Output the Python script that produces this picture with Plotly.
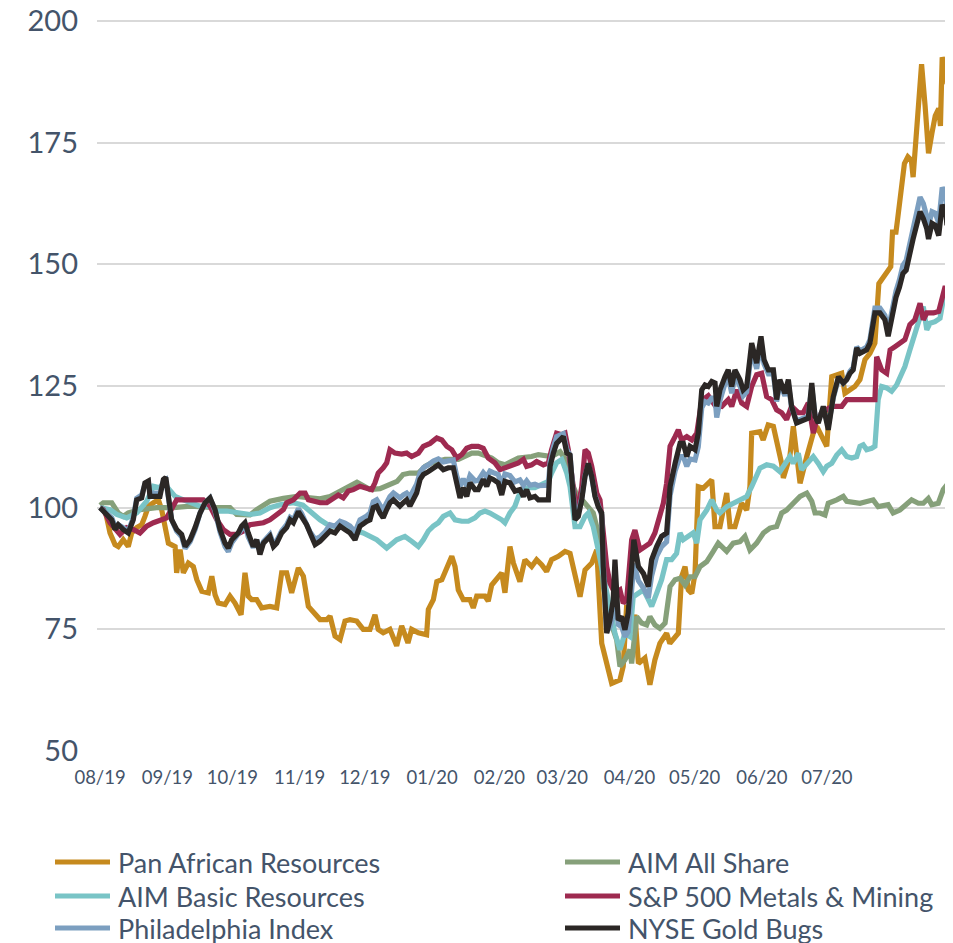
import plotly.graph_objects as go

# ---- data (x = days since 1 Aug 2019, y = index, rebased to 100) ----
month_days = [0, 31, 61, 92, 122, 153, 184, 213, 244, 274, 305, 335]
month_labels = ["08/19", "09/19", "10/19", "11/19", "12/19", "01/20",
                "02/20", "03/20", "04/20", "05/20", "06/20", "07/20"]
y_ticks = [50, 75, 100, 125, 150, 175, 200]

pan_african = [(0,100),(2.3,99.6),(4.6,94.8),(6.9,92.4),(8.4,92),(10.7,93.4),(13.0,92),(14.6,94.8),(16.9,95.9),(19.2,96.5),(20.7,98.2),(22.3,100.3),(24.6,101),(26.9,101.6),(28.4,99.6),(30.0,96.2),(31.5,92.7),(34.6,92),(35.3,86.6),(36.9,91.4),(38.4,86.6),(40.7,88.6),(43.0,87.9),(44.6,85.2),(46.9,82.8),(49.9,82.5),(51.5,85.9),(53.0,82.1),(54.5,80.4),(57.6,80.1),(59.9,81.8),(62.2,80.4),(65.0,78),(66.8,86.6),(68.3,81.8),(69.9,81.1),(72.2,81.1),(74.5,79.4),(78.3,79.7),(81.4,79.4),(83.7,86.6),(86.0,86.6),(88.3,82.5),(91.4,87.6),(93.7,85.9),(96.0,79.7),(98.3,78.7),(101.4,77),(104.5,77),(106.0,77.7),(108.3,73.6),(110.6,72.9),(112.9,76.7),(115.2,77),(118.3,76.7),(121.3,75),(124.4,75),(126.7,78),(128.2,75),(130.5,74.3),(133.6,75),(136.7,71.6),(139.0,75.7),(141.9,72.2),(143.6,75),(146.7,74.3),(150.5,73.9),(151.3,79.1),(153.6,81.1),(155.2,84.8),(157.5,85.2),(159.8,87.9),(162.1,90),(163.6,87.9),(165.1,83.1),(167.4,81.1),(170.5,81.1),(172.0,79.4),(173.6,81.8),(177.4,81.8),(178.9,80.8),(180.5,84.1),(182.8,85.2),(185.1,86.6),(186.6,82.5),(188.9,92),(190.5,88.6),(193.5,84.8),(195.8,89.3),(198.9,87.9),(201.2,89.3),(203.5,88.3),(205.8,86.9),(208.1,89.3),(211.2,90),(214.3,91),(216.6,90.6),(218.9,85.8),(221.2,81.7),(223.5,87.2),(226.6,88.6),(228.9,91.3),(231.2,72.1),(235.8,63.9),(239.6,64.6),(241.1,67.4),(242.7,80),(245.0,74.2),(246.5,78),(248.1,68),(251.1,69.1),(253.4,63.6),(255.7,68.7),(258.0,72.1),(261.1,74.2),(262.6,72.1),(266.5,74.2),(268.0,85.8),(269.6,87.9),(271.1,83.1),(272.7,82.4),(274.2,86.5),(275.7,104.3),(278.0,104),(281.9,105.7),(283.4,96.1),(285.7,96.1),(288.8,103),(290.3,96.1),(292.6,96.1),(295.7,100.9),(298.0,99.5),(299.5,104.3),(300.3,115.3),(304.1,115.6),(305.6,113.9),(307.9,117),(310.3,116.7),(312.6,112.6),(314.1,109.1),(314.9,106.1),(317.9,110.5),(319.5,116.7),(321.0,110.5),(322.6,105),(325.7,110.5),(328.7,115.3),(330.3,116.7),(333.3,113.9),(334.9,112.6),(337.2,126.9),(339.5,127.3),(341.8,127.6),(343.3,123.5),(345.6,124.2),(347.9,124.9),(350.2,126.3),(352.5,130.4),(354.8,131.7),(357.1,133.8),(358.9,146),(362.1,148.1),(364.4,149.5),(365.2,156.6),(366.8,156.6),(367.6,159.4),(369.1,165.1),(370.7,170.7),(372.3,172.1),(373.9,171.4),(374.7,167.9),(375.5,172.1),(377.1,180.5),(378.6,191.1),(380.2,182.7),(381.8,172.8),(383.4,177),(384.9,180.5),(386.5,182),(387.3,178.4),(388.1,192.5),(389.7,190.4),(390.3,187)]

aim_all_share = [(0,100.5),(1.5,101),(5.4,101),(8.4,98.9),(10.7,98.2),(13.0,98.9),(18.4,99.6),(26.1,100),(33.8,100),(41.5,100.3),(53.8,100),(59.9,100),(63.0,98.6),(66.0,98.6),(69.1,98.5),(72.2,99.6),(75.3,100.6),(78.3,101.3),(84.5,101.9),(90.8,102.3),(96.8,102),(101.4,101.8),(106.0,102.3),(109.2,103),(113.8,104.1),(118.4,105.2),(124.4,103.7),(129.0,103.9),(136.9,105.4),(139.6,106.8),(142.8,107.1),(146.7,107.1),(149.8,108.5),(152.8,109.2),(159.0,109.9),(165.1,109.9),(171.3,111.2),(174.3,111.2),(180.5,110.2),(183.5,109.2),(186.6,108.8),(192.8,110.2),(198.9,110.5),(202.0,110.9),(208.1,110.5),(212.0,111.5),(214.3,110),(217.5,105),(220.3,102),(222.7,101.3),(227.3,98.9),(229.6,94.8),(231.9,83.8),(235.0,76.9),(238.1,72.8),(239.6,67.4),(241.9,68.7),(244.2,70.8),(245.0,68),(247.3,77.6),(249.6,76.3),(251.9,75.9),(253.4,77.6),(255.7,75.9),(258.0,75.2),(260.4,76.3),(262.7,83.8),(265.0,85.2),(267.3,85.5),(269.6,84.1),(271.9,85.8),(274.2,85.8),(276.5,87.9),(279.6,88.9),(282.6,91),(284.9,92.7),(288.8,91),(291.8,92.7),(294.9,93),(297.2,94.1),(299.5,91.3),(302.6,92.7),(305.7,94.8),(308.7,95.8),(311.8,96.1),(314.1,98.9),(316.4,99.5),(319.5,100.9),(322.6,102.3),(325.7,103),(328.0,101.3),(329.5,98.9),(331.8,98.9),(334.1,98.5),(335.6,100.9),(339.5,101.6),(342.5,102.3),(344.1,101.3),(350.2,100.9),(356.3,101.6),(358.6,100.2),(363.2,100.6),(365.5,98.9),(368.6,99.5),(371.7,100.9),(374.0,101.6),(377.1,100.9),(379.4,100.9),(381.7,101.9),(383.3,100.6),(386.3,100.9),(388.6,103.7),(390.3,104.7)]

aim_basic_resources = [(0,100),(4.6,99.6),(7.7,98.6),(12.3,97.9),(16.9,98.9),(21.5,101.3),(24.6,104.4),(27.6,104.1),(29.2,105.1),(32.3,103.7),(34.6,102.3),(38.4,101.6),(43.0,100.9),(46.1,100.3),(50.7,100.3),(53.8,99.3),(58.4,99.3),(64.5,98.9),(69.1,98.6),(73.7,98.9),(78.3,100),(82.9,100.6),(89.1,101),(93.5,100.5),(98.3,98.6),(101.4,97.5),(106.0,96.2),(112.1,96.2),(118.3,95.2),(121.3,94.8),(127.5,93.4),(132.1,91.7),(136.7,93.4),(140.5,94.1),(143.6,93.1),(146.7,92),(149.0,93.4),(151.3,95.2),(153.6,96.2),(155.9,96.9),(158.2,98.2),(161.3,98.9),(163.6,97.5),(166.7,97.2),(169.7,97.2),(172.8,97.9),(175.1,98.9),(177.4,99.3),(179.7,98.9),(182.8,98.2),(185.1,97.5),(186.6,96.9),(188.9,98.9),(191.2,100.3),(192.8,102.3),(195.1,103.7),(197.4,104.1),(200.4,104.1),(203.5,104.7),(206.6,105.4),(208.1,107.1),(210.4,109.2),(212.8,109.9),(215.1,107.1),(216.6,104.3),(218.1,98.9),(218.9,96.1),(221.2,96.1),(223.5,98.2),(225.0,98.9),(227.3,96.1),(229.6,91.3),(231.2,87.9),(233.5,82.4),(235.0,79.7),(237.3,74.2),(239.6,70.8),(241.9,74.2),(244.2,73.5),(245.7,81.7),(248.1,82.4),(250.4,83.1),(252.7,81.1),(254.2,79.7),(256.5,82.4),(258.8,85.2),(261.1,89.3),(263.4,89.3),(265.7,90.6),(267.3,94.8),(268.8,93.4),(271.1,94.1),(273.4,94.8),(275.0,92.7),(276.5,97.5),(279.6,99.5),(281.9,101.6),(284.2,99.5),(285.7,98.9),(288.8,100.2),(291.8,100.9),(294.9,101.6),(298.0,102.3),(300.3,104.3),(302.6,106.4),(304.1,108.1),(307.2,108.8),(310.3,108.5),(313.3,107.4),(315.6,108.8),(317.9,110.5),(319.5,109.1),(321.8,111.2),(323.3,107.8),(325.7,109.1),(328.7,110.5),(331.0,109.1),(333.3,107.4),(334.9,108.5),(337.2,109.1),(339.5,110.8),(341.8,111.9),(344.1,110.5),(346.4,110.2),(348.7,110.5),(350.2,112.6),(351.7,112.9),(353.3,111.9),(355.6,112.2),(357.1,112.6),(358.6,122.2),(360.2,124.9),(362.5,124.6),(364.8,123.9),(367.1,125.2),(368.6,126.9),(370.9,129),(373.2,132.4),(375.5,135.9),(377.9,138.6),(379.4,141.3),(381.0,136.5),(382.5,137.9),(384.8,138.2),(387.1,138.9),(388.6,142.7),(390.3,144.5)]

sp500_metals_mining = [(0,100),(1.5,99.6),(4.6,96.9),(7.7,95.2),(9.2,94.5),(12.3,95.9),(15.3,95.5),(18.4,94.8),(21.5,96.2),(24.6,96.9),(27.6,97.5),(30.7,97.9),(35.3,101.6),(40.0,101.6),(47.6,101.6),(50.7,100.3),(53.8,97.5),(56.8,95.5),(59.9,94.5),(63.0,94.5),(66.0,95.2),(69.1,96.5),(75.3,96.9),(78.3,97.5),(81.4,98.6),(84.5,99.6),(86.0,101),(89.1,101.6),(92.2,103),(94.5,103),(96.0,101.6),(101.4,101),(104.5,101),(107.5,102),(109.8,102.6),(112.1,102),(114.4,103.4),(116.7,103.7),(119.8,104.4),(122.1,104.1),(125.2,103.7),(126.7,105.1),(128.2,107.1),(130.5,108.2),(132.1,109.2),(133.6,111.9),(135.9,111.2),(139.0,111),(141.3,111.2),(143.6,110.5),(146.7,111.2),(149.0,112.6),(152.1,113.2),(155.2,114.3),(157.5,113.9),(159.8,112.6),(162.1,111.9),(164.4,110.2),(166.7,110.9),(169.0,112.2),(171.3,112.6),(174.3,112.6),(176.6,112.2),(178.9,110.2),(182.0,109.2),(184.3,107.8),(186.6,108.2),(189.7,108.5),(192.8,109.2),(195.1,109.9),(196.6,108.5),(198.9,108.8),(201.2,109.5),(204.3,108.8),(206.6,109.2),(208.1,111.9),(210.4,115.3),(212.8,115),(214.3,115.3),(215.8,111.9),(217.3,107.1),(218.9,101.6),(220.4,100.2),(222.0,104.3),(223.5,111.9),(225.0,111.2),(226.6,108.5),(228.9,103),(230.4,101.6),(231.9,94.8),(233.5,87.9),(235.0,84.5),(237.3,82.4),(239.6,83.1),(241.1,80.4),(242.7,81.1),(245.0,93.4),(246.5,95.4),(248.8,91.3),(251.1,92),(253.4,92.7),(255.7,94.8),(258.0,98.9),(259.6,100.9),(261.1,105),(262.7,112.6),(265.0,114.6),(266.5,116),(268.0,113.9),(270.4,114.6),(272.7,113.9),(275.0,115.3),(277.3,122),(280.3,123),(283.4,121),(286.5,120.8),(289.5,122.2),(291.1,120.8),(293.4,124.2),(295.7,121.5),(298.0,120.8),(300.3,124.9),(302.6,127.3),(304.9,127.6),(307.2,122.8),(309.5,122.2),(311.8,120.1),(314.1,119.5),(316.4,118.1),(318.7,120.8),(321.8,119.5),(324.1,119.5),(326.4,121.5),(328.7,115.3),(330.3,118.1),(332.6,119.5),(337.2,120.8),(341.8,120.8),(344.1,122.2),(357.1,122.2),(357.9,131),(360.2,128.3),(362.5,127.6),(364.1,132.4),(366.4,133.1),(368.6,133.8),(370.9,134.5),(373.2,137.6),(375.5,138.6),(377.9,142),(379.4,138.6),(381.0,140),(384.1,140),(386.5,140.3),(388.0,142.7),(389.5,145.5),(390.3,144)]

philadelphia_index = [(0,100),(3.1,98.9),(5.4,97.9),(6.9,96.2),(8.4,96.5),(10.7,95.9),(13.0,95.2),(15.3,97.9),(16.9,101.9),(19.2,102.6),(20.7,104.8),(22.3,105.2),(23.0,103),(27.6,103),(29.2,105.5),(30.3,105.8),(31.5,102),(33.0,97.5),(35.3,95.2),(37.6,94),(39.2,91.6),(41.5,93),(43.8,95.5),(46.1,98.9),(48.4,101),(50.7,102),(53.0,99.3),(55.3,95),(57.6,92),(59.1,91),(60.7,92.8),(63.7,94.5),(65.3,95.5),(66.8,96.5),(68.3,94),(70.6,91.8),(72.2,93.4),(73.7,91),(75.3,93),(76.8,93.8),(78.3,94.5),(79.9,92.6),(81.4,93.2),(83.7,95.2),(86.0,96.5),(87.6,98),(89.1,97.5),(91.4,99.8),(92.9,98.8),(95.2,96.5),(96.8,95),(99.1,93.5),(101.4,94),(103.7,95),(106.0,96.5),(108.3,96.2),(110.6,97.2),(112.9,96.8),(115.2,96.2),(117.5,95),(119.8,97.5),(122.9,98.3),(124.4,98.9),(125.9,101.2),(127.5,101.6),(129.0,100.5),(130.5,99.6),(132.1,101),(133.6,102.3),(135.2,103),(136.7,102.6),(138.2,102),(139.8,102.6),(141.3,103),(142.8,102.2),(144.4,103.4),(145.9,104.8),(147.5,107.2),(149.0,108.2),(151.3,108.8),(153.6,109.6),(155.9,110),(158.2,109.4),(160.5,109.6),(162.8,109.8),(164.4,106.5),(165.9,104.4),(167.4,105.9),(169.0,104.5),(170.5,106.6),(172.8,105.5),(174.3,105.6),(176.6,107.2),(178.2,106.3),(179.7,107.5),(181.2,107.2),(183.5,106.8),(185.1,104.7),(186.6,106.9),(188.9,106.6),(191.2,105.3),(193.5,105.7),(195.1,104.6),(196.6,105.5),(198.1,104.6),(200.4,104.8),(202.0,104.5),(206.6,104.6),(207.4,109.4),(208.9,112.4),(210.4,114.6),(213.5,115.2),(215.1,112),(216.6,110.8),(218.1,102.3),(218.9,98.5),(220.4,99),(222.0,102),(223.5,106.6),(225.0,108.8),(226.6,106.2),(228.1,102.5),(229.6,100.5),(231.2,98.5),(231.9,88.5),(233.5,74.5),(235.0,75.5),(236.5,78),(237.3,84),(238.8,76),(240.4,75.5),(241.9,73.5),(243.4,74.5),(245.0,82),(246.0,88.5),(248.1,85),(250.4,83.5),(252.7,81.5),(254.2,86),(256.5,90),(258.8,92),(261.1,93),(262.7,102.5),(265.0,107.5),(267.3,110.5),(268.8,110.5),(270.4,108.5),(271.9,110),(274.2,109.8),(275.7,112.5),(277.3,120.5),(278.8,121.8),(280.3,121.5),(281.9,122.5),(283.4,122.5),(284.2,118.5),(285.7,122),(288.0,125.5),(289.5,127),(291.1,123.5),(292.6,127),(294.9,125),(296.4,123),(298.0,123.8),(300.3,132.5),(302.6,128.5),(304.6,133.8),(306.0,129.5),(308.0,127.5),(310.3,127.5),(311.8,121.8),(313.3,125.5),(315.6,123),(317.2,125.5),(318.7,120.5),(321.0,117.8),(324.1,118.5),(326.4,118.8),(328.0,124.8),(329.5,119),(331.0,117.8),(333.3,120.5),(335.6,116.8),(337.9,122.5),(340.3,126.5),(342.5,125.5),(344.1,126.5),(345.6,128),(347.1,128.8),(348.7,133),(350.2,132.2),(353.3,133),(354.8,134.5),(357.1,141),(359.4,141),(361.7,139.5),(363.2,136.5),(365.2,141.5),(366.8,144.5),(368.4,146.8),(370.0,149.8),(371.5,150.8),(373.1,154.5),(374.7,157.5),(376.3,160.5),(377.9,163.8),(379.4,162.5),(381.0,159.8),(381.8,158),(383.4,160.8),(384.9,160.5),(386.5,158.5),(388.1,165.8),(389.7,164.5),(390.3,161)]

nyse_gold_bugs = [(0,100),(3.1,98.6),(5.4,97.5),(6.9,95.5),(8.4,96.5),(10.7,95.5),(13.0,94.8),(15.3,97.5),(16.9,101.6),(19.2,102),(20.7,105.1),(22.3,105.5),(23.0,102.3),(27.6,102.3),(29.2,105.8),(30.3,106.2),(31.5,101.6),(33.0,97.5),(35.3,95.5),(37.6,94.5),(39.2,92),(41.5,93.4),(43.8,95.9),(46.1,98.9),(48.4,101),(50.7,102),(53.0,99.6),(55.3,95.5),(57.6,92.7),(59.1,91.7),(60.7,93.4),(63.7,94.8),(65.3,96.2),(66.8,96.9),(68.3,94.8),(70.6,92),(72.2,93.4),(73.7,90.4),(75.3,92.7),(76.8,93.4),(78.3,94.1),(79.9,92),(81.4,92.7),(83.7,94.8),(86.0,95.9),(87.6,97.5),(89.1,96.9),(91.4,99.2),(92.9,98.2),(95.2,96.5),(96.8,94.8),(99.1,92.4),(101.4,93.1),(103.7,94.1),(106.0,95.2),(108.3,94.8),(110.6,96.2),(112.9,95.5),(115.2,94.8),(117.5,93.4),(119.8,96.2),(122.9,97.2),(124.4,97.5),(125.9,100),(127.5,100.3),(129.0,98.9),(130.5,97.9),(132.1,99.6),(133.6,101),(135.2,101.6),(136.7,101),(138.2,100.3),(139.8,101),(141.3,101.6),(142.8,100.3),(144.4,101.6),(145.9,103),(147.5,105.8),(149.0,106.8),(151.3,107.4),(153.6,108.2),(155.9,108.8),(158.2,107.8),(160.5,108.2),(162.8,108.2),(164.4,104.4),(165.9,102),(167.4,104.1),(169.0,102.3),(170.5,105.1),(172.8,103.7),(174.3,103.7),(176.6,105.8),(178.2,104.4),(179.7,106.1),(181.2,105.8),(183.5,105.1),(185.1,102.6),(186.6,105.4),(188.9,105.1),(191.2,103.4),(193.5,103.7),(195.1,102.3),(196.6,103.7),(198.1,102),(200.4,102.3),(202.0,101.6),(206.6,101.6),(207.4,108.5),(208.9,111.2),(210.4,113.2),(213.5,114.6),(215.1,111.2),(216.6,110.8),(218.1,101.6),(218.9,97.5),(220.4,98.2),(222.0,101.6),(223.5,106.4),(225.0,109.1),(226.6,106.4),(228.1,102.3),(229.6,100.2),(231.2,98.9),(231.9,87.9),(233.5,74.2),(235.0,76.9),(236.5,81.1),(237.3,89.3),(238.8,76.9),(240.4,77.6),(241.9,74.9),(243.4,78.3),(245.0,87.9),(246.0,93.4),(248.1,87.9),(250.4,86.5),(252.7,83.8),(254.2,89.3),(256.5,92),(258.8,94.1),(261.1,94.8),(262.7,104.3),(265.0,109.1),(267.3,113.2),(268.8,113.2),(270.4,110.5),(271.9,112.6),(274.2,111.9),(275.7,115.3),(277.3,124.2),(278.8,125.2),(280.3,124.9),(281.9,125.9),(283.4,125.6),(284.2,120.8),(285.7,124.2),(288.0,126.9),(289.5,128.3),(291.1,124.9),(292.6,128.3),(294.9,126.3),(296.4,124.2),(298.0,124.9),(300.3,133.8),(302.6,129.7),(304.6,135.2),(306.0,130.4),(308.0,128.3),(310.3,128.3),(311.8,122.2),(313.3,126.3),(315.6,123.5),(317.2,126.3),(318.7,120.8),(321.0,117.4),(324.1,118.1),(326.4,118.4),(328.0,125.6),(329.5,118.7),(331.0,117.4),(333.3,120.8),(335.6,116),(337.9,122.8),(340.3,126.9),(342.5,125.6),(344.1,126.3),(345.6,127.6),(347.1,128.3),(348.7,132.8),(350.2,131.7),(353.3,132.4),(354.8,133.8),(357.1,140),(359.4,140),(361.7,138.6),(363.2,135.2),(365.2,140.4),(366.8,143.2),(368.4,145.3),(370.0,148.1),(371.5,148.8),(373.1,152.4),(374.7,155.2),(376.3,158),(377.9,160.8),(379.4,159.4),(381.0,157.3),(381.8,155.2),(383.4,158.4),(384.9,158),(386.5,155.9),(388.1,162.2),(389.7,160.8),(390.3,158)]

# name, data, colour, legend column, legend row
series = [
    ("Pan African Resources", pan_african, "#C68A1E", 0, 0),
    ("AIM All Share", aim_all_share, "#86A07A", 1, 0),
    ("AIM Basic Resources", aim_basic_resources, "#79C4C6", 0, 1),
    ("S&P 500 Metals & Mining", sp500_metals_mining, "#9E2A50", 1, 1),
    ("Philadelphia Index", philadelphia_index, "#7C9FC0", 0, 2),
    ("NYSE Gold Bugs", nyse_gold_bugs, "#2B2725", 1, 2),
]

FONT = "Lato, 'Open Sans', sans-serif"
TEXT = "#44546A"
LW = 5.2
Y_MIN, Y_MAX = 50, 200.6

# page is rendered with an 8px body margin -> figure is 945x935
W, H = 945, 935
ML, MR, MT, MB = 89, 3, 10, 192
PW, PH = W - ML - MR, H - MT - MB

fig = go.Figure()
for name, pts, color, col, row in series:
    fig.add_trace(go.Scatter(
        x=[p[0] for p in pts], y=[p[1] for p in pts], name=name,
        mode="lines", line=dict(color=color, width=LW), showlegend=False,
    ))

# manual two-column legend (page pixel layout)
col_line_x = [(55, 110), (565, 620)]
col_text_x = [117, 627]
row_y = [862, 896, 928]

def px_to_paper_x(X):
    return (X - 8 - ML) / PW

def px_to_paper_y(Y):
    return (MT + PH - (Y - 8)) / PH

for name, pts, color, col, row in series:
    yy = px_to_paper_y(row_y[row])
    x0, x1 = col_line_x[col]
    fig.add_shape(type="line", xref="paper", yref="paper",
                  x0=px_to_paper_x(x0), x1=px_to_paper_x(x1), y0=yy, y1=yy,
                  line=dict(color=color, width=LW))
    fig.add_annotation(text=name, xref="paper", yref="paper",
                       x=px_to_paper_x(col_text_x[col]), y=yy,
                       xanchor="left", yanchor="middle", showarrow=False,
                       borderpad=0,
                       font=dict(family=FONT, size=27, color=TEXT))

fig.update_layout(
    width=W, height=H,
    margin=dict(l=ML, r=MR, t=MT, b=MB, autoexpand=False),
    paper_bgcolor="white", plot_bgcolor="white",
    font=dict(family=FONT, color=TEXT),
    showlegend=False,
    xaxis=dict(
        range=[-1.4, 391.7], tickmode="array", tickvals=month_days,
        ticktext=month_labels, showgrid=False, zeroline=False,
        showline=False, ticks="", ticklabelstandoff=13, automargin=False,
        tickfont=dict(family=FONT, size=18.5, color=TEXT),
    ),
    yaxis=dict(
        range=[Y_MIN, Y_MAX], tickmode="array", tickvals=y_ticks,
        showgrid=True, gridcolor="#D9D9D9", gridwidth=2,
        zeroline=False, showline=False, ticks="", ticklabelstandoff=18,
        ticklabeloverflow="allow", automargin=False,
        tickfont=dict(family=FONT, size=29, color=TEXT),
    ),
)

fig.write_html("out.html")
